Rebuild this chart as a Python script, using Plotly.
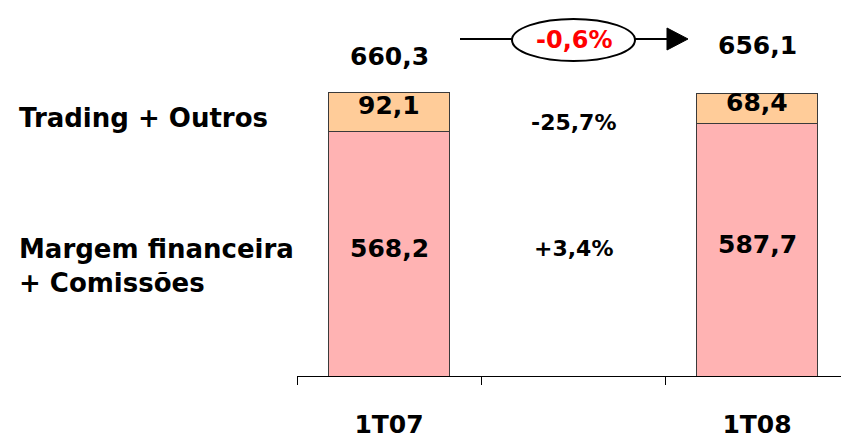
import plotly.graph_objects as go

categories = ["1T07", " ", "1T08"]
margem = [568.2, None, 587.7]
trading = [92.1, None, 68.4]
totals = [660.3, None, 656.1]
seg_labels_margem = ["568,2", None, "587,7"]
seg_labels_trading = ["92,1", None, "68,4"]
total_labels = ["660,3", None, "656,1"]
growth_trading = "-25,7%"
growth_margem = "+3,4%"
growth_total = "-0,6%"
row_labels = ["Trading + Outros", "Margem financeira<br>+ Comissões"]

W, H = 841, 443
BASE = 376           # pixel y of baseline
LEFT = 297           # pixel x of plot start
FONT = "DejaVu Sans"

def px(x):
    return x / W

def py(y):
    return (BASE - y) / BASE

fig = go.Figure()
fig.add_trace(go.Bar(x=categories, y=margem, width=0.66,
                     marker=dict(color="#FFB3B3", line=dict(color="#3a3a3a", width=1)),
                     hoverinfo="skip"))
fig.add_trace(go.Bar(x=categories, y=trading, width=0.66,
                     marker=dict(color="#FFCC99", line=dict(color="#3a3a3a", width=1)),
                     hoverinfo="skip"))

ann = []
for i, c in enumerate(categories):
    if margem[i] is None:
        continue
    ann.append(dict(x=i, y=margem[i] / 2 + 12, xref="x", yref="y", text="<b>%s</b>" % seg_labels_margem[i],
                    showarrow=False, xanchor="center", yanchor="middle",
                    font=dict(family=FONT, size=25, color="black")))
    ann.append(dict(x=i, y=margem[i] + trading[i] / 2 + 14, xref="x", yref="y",
                    text="<b>%s</b>" % seg_labels_trading[i], xanchor="center", yanchor="middle",
                    showarrow=False, font=dict(family=FONT, size=25, color="black")))

# totals
ann.append(dict(x=0, y=totals[0] + 82, xref="x", yref="y", text="<b>%s</b>" % total_labels[0],
                showarrow=False, xanchor="center", yanchor="middle",
                font=dict(family=FONT, size=25, color="black")))
ann.append(dict(x=2, y=totals[2] + 113, xref="x", yref="y", text="<b>%s</b>" % total_labels[2],
                showarrow=False, xanchor="center", yanchor="middle",
                font=dict(family=FONT, size=25, color="black")))

# growth labels in middle column
ann.append(dict(x=1, y=(margem[0] + totals[0]) / 2 - 24, xref="x", yref="y", text="<b>%s</b>" % growth_trading,
                showarrow=False, xanchor="center", yanchor="middle",
                font=dict(family=FONT, size=22, color="black")))
ann.append(dict(x=1, y=margem[0] / 2 + 12, xref="x", yref="y", text="<b>%s</b>" % growth_margem,
                showarrow=False, xanchor="center", yanchor="middle",
                font=dict(family=FONT, size=22, color="black")))

# row labels
ann.append(dict(x=px(17), y=py(118), xref="paper", yref="paper", xanchor="left", yanchor="middle",
                text="<b>%s</b>" % row_labels[0], showarrow=False, align="left",
                font=dict(family=FONT, size=26, color="black")))
ann.append(dict(x=px(17), y=py(266), xref="paper", yref="paper", xanchor="left", yanchor="middle",
                text="<b>%s</b>" % row_labels[1].replace("<br>", "</b><br><b>"), showarrow=False, align="left",
                font=dict(family=FONT, size=26, color="black")))

# total change in ellipse
ann.append(dict(x=px(574), y=py(40), xref="paper", yref="paper", text="<b>%s</b>" % growth_total,
                showarrow=False, xanchor="center", yanchor="middle",
                font=dict(family=FONT, size=24, color="#FF0000")))

shapes = [
    dict(type="line", xref="paper", yref="paper", x0=px(460), x1=px(512), y0=py(39), y1=py(39),
         line=dict(color="black", width=2)),
    dict(type="circle", xref="paper", yref="paper", x0=px(512), x1=px(635), y0=py(19), y1=py(61),
         line=dict(color="black", width=2), fillcolor="white"),
    dict(type="line", xref="paper", yref="paper", x0=px(635), x1=px(670), y0=py(39), y1=py(39),
         line=dict(color="black", width=2)),
    dict(type="path", xref="paper", yref="paper",
         path="M %f %f L %f %f L %f %f Z" % (px(667), py(28), px(688), py(39), px(667), py(50)),
         fillcolor="black", line=dict(color="black", width=1)),
]

span = (W - LEFT) / 184.0
fig.update_layout(
    width=W, height=H, barmode="stack", showlegend=False,
    margin=dict(l=0, r=0, t=0, b=H - BASE, pad=0),
    plot_bgcolor="white", paper_bgcolor="white",
    annotations=ann, shapes=shapes,
    xaxis=dict(domain=[LEFT / W, 1], type="category", range=[-0.5, -0.5 + span],
               showline=True, linecolor="black", linewidth=1,
               ticks="outside", ticklen=8, tickcolor="black", tickwidth=1, tickson="boundaries",
               showgrid=False, zeroline=False, ticklabelstandoff=26,
               tickfont=dict(family=FONT, size=25, color="black", weight="bold")),
    yaxis=dict(range=[0, BASE / 0.43], visible=False, showgrid=False, zeroline=False),
)

fig.write_html("out.html")
